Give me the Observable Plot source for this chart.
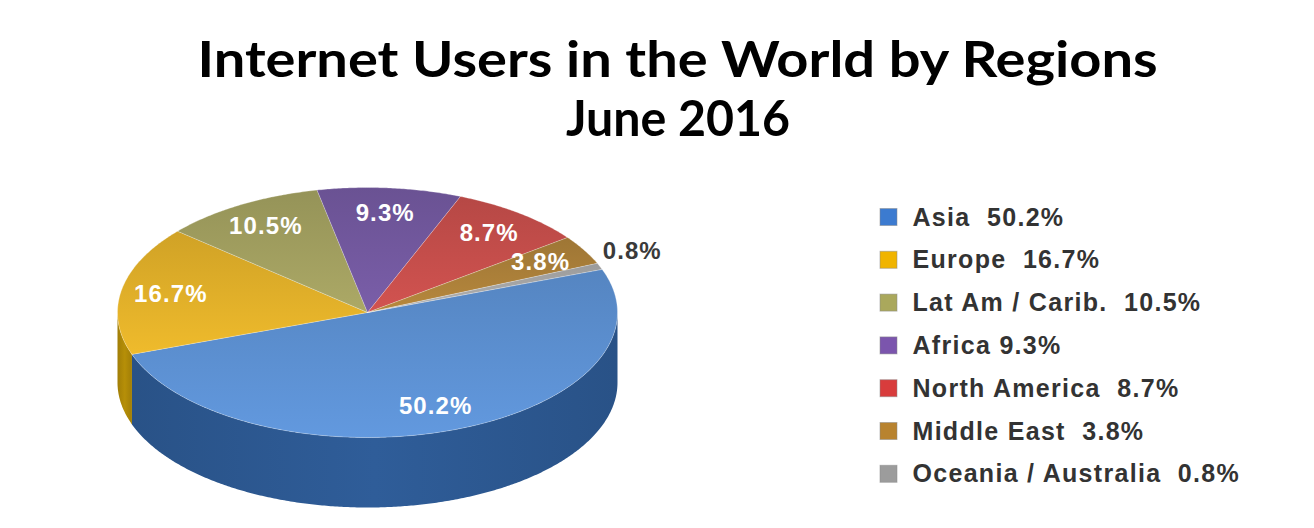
<!DOCTYPE html>
<html><head><meta charset="utf-8">
<script src="https://cdn.jsdelivr.net/npm/d3@7"></script>
<script src="https://cdn.jsdelivr.net/npm/@observablehq/plot@0.6"></script>
<style>
body{margin:0;background:#fff;width:1314px;height:528px;overflow:hidden}
#title{height:150px;text-align:center;font-family:Lato,"Open Sans",sans-serif;font-weight:bold;color:#000;padding-left:42px;box-sizing:border-box;padding-top:29px}
#title div{font-size:50px;line-height:59px;height:59px;white-space:nowrap}
#title span{display:inline-block;transform-origin:50% 50%}
#chart svg{display:block;white-space:pre}
</style></head><body>
<div id="title"><div><span data-w="960">Internet Users in the World by Regions</span></div><div><span data-w="224">June 2016</span></div></div>
<div id="chart"></div>
<script>
// ---- data ----
const regions = ["Asia", "Europe", "Lat Am / Carib.", "Africa", "North America", "Middle East", "Oceania / Australia"];
const shares = [50.2, 16.7, 10.5, 9.3, 8.7, 3.8, 0.8];
const legendLabels = ["Asia  50.2%", "Europe  16.7%", "Lat Am / Carib.  10.5%", "Africa 9.3%", "North America  8.7%", "Middle East  3.8%", "Oceania / Australia  0.8%"];
const topColors = ["#5a8ccc", "#dbab28", "#9d9b5d", "#70569b", "#c04c49", "#a77c38", "#a3a3a3"];
const sideColors = ["#2d5a94", "#b08a08", "#77753e", "#4f3a73", "#8e3331", "#7a5822", "#777777"];
const legendColors = ["#3c7bd0", "#f0b400", "#aaa85c", "#7b55ad", "#d83c3c", "#b8832f", "#9c9c9c"];

// ---- geometry (style) ----
const W = 1314, H = 378;
const cx = 367, cy = 162, rx = 250, ry = 125, depth = 70, start = -20.3;
const deg = Math.PI / 180;
const total = d3.sum(shares);
let acc = start;
const slices = regions.map((region, i) => {
  const a0 = acc, a1 = acc + shares[i] / total * 360; acc = a1;
  return {region, i, share: shares[i], a0, a1, mid: (a0 + a1) / 2};
});
const P = (a, dy = 0) => ({x: cx + rx * Math.cos(a * deg), y: cy + ry * Math.sin(a * deg) + dy});
const arc = (a0, a1, dy) => {
  const n = Math.max(2, Math.ceil(Math.abs(a1 - a0) * 2));
  return d3.range(n + 1).map(k => P(a0 + (a1 - a0) * k / n, dy));
};
// visible front wall parts
const sideParts = [];
slices.forEach(s => {
  for (const off of [-360, 0, 360]) {
    const lo = Math.max(s.a0, off), hi = Math.min(s.a1, off + 180);
    if (hi > lo) sideParts.push({s, pts: [...arc(lo, hi, 0), ...arc(hi, lo, depth)]});
  }
});
const tops = slices.map(s => ({s, pts: [{x: cx, y: cy}, ...arc(s.a0, s.a1, 0)]}));

const sideMarks = sideParts.map(p => Plot.line(p.pts, {x: "x", y: "y", curve: "linear-closed", fill: `url(#side${p.s.i})`, stroke: "none"}));
const topMarks = tops.map(p => Plot.line(p.pts, {x: "x", y: "y", curve: "linear-closed", fill: `url(#top${p.s.i})`, stroke: "#ffffff", strokeOpacity: 0.35, strokeWidth: 0.8}));

const inside = slices.filter(s => s.share >= 2);
const outside = slices.filter(s => s.share < 2);
const legendRows = regions.map((r, i) => ({i, label: legendLabels[i], color: legendColors[i]}));
const ly = i => 67 + i * 42.8;
const font = "Liberation Sans, Arial, sans-serif";

const chart = Plot.plot({
  width: W, height: H,
  margin: 0,
  x: {domain: [0, W], range: [0, W], axis: null},
  y: {domain: [0, H], range: [0, H], axis: null},
  marks: [
    ...sideMarks,
    ...topMarks,
    Plot.text(inside, {
      x: d => cx + 0.8 * rx * Math.cos(d.mid * deg),
      y: d => cy + 0.8 * ry * Math.sin(d.mid * deg),
      text: d => d.share.toFixed(1) + "%",
      fill: "#ffffff", fontSize: 24, fontWeight: "bold", fontFamily: font
    }),
    Plot.text(outside, {
      x: d => cx + 1.14 * rx * Math.cos(d.mid * deg),
      y: d => cy + 1.14 * ry * Math.sin(d.mid * deg) - 8,
      text: d => d.share.toFixed(1) + "%",
      fill: "#3a3a3a", fontSize: 24, fontWeight: "bold", fontFamily: font
    }),
    Plot.rect(legendRows, {
      x1: 880, x2: 897,
      y1: d => ly(d.i) - 8.5, y2: d => ly(d.i) + 8.5,
      fill: d => d.color, stroke: "#8a8a8a", strokeOpacity: 0.5, strokeWidth: 1
    }),
    Plot.text(legendRows, {
      x: 912, y: d => ly(d.i),
      text: "label", textAnchor: "start",
      fill: "#333333", fontSize: 25, fontWeight: "bold", fontFamily: font
    })
  ]
});

// gradients for the 3D shading
const svg = d3.select(chart);
const defs = svg.insert("defs", ":first-child");
slices.forEach(s => {
  const c = d3.color(topColors[s.i]);
  const gt = defs.append("linearGradient").attr("id", `top${s.i}`).attr("x1", 0).attr("y1", 0).attr("x2", 0).attr("y2", 1);
  gt.append("stop").attr("offset", 0).attr("stop-color", c.darker(0.15));
  gt.append("stop").attr("offset", 1).attr("stop-color", c.brighter(0.25));
  const sc = d3.color(sideColors[s.i]);
  const gs = defs.append("linearGradient").attr("id", `side${s.i}`).attr("x1", 0).attr("y1", 0).attr("x2", 1).attr("y2", 0);
  gs.append("stop").attr("offset", 0).attr("stop-color", sc.darker(0.25));
  gs.append("stop").attr("offset", 0.5).attr("stop-color", sc.brighter(0.1));
  gs.append("stop").attr("offset", 1).attr("stop-color", sc.darker(0.25));
});
// wider letter spacing like the reference's bold labels
svg.selectAll('g[font-size="25"] text').style("letter-spacing", "1.3px");
svg.selectAll('g[font-size="24"] text').style("letter-spacing", "1.1px");
document.getElementById("chart").appendChild(chart);

// fit the title lines to the reference widths
function fitTitle() {
  document.querySelectorAll("#title span").forEach(sp => {
    sp.style.transform = "none";
    const w = sp.getBoundingClientRect().width;
    if (w > 0) sp.style.transform = `scaleX(${(+sp.dataset.w) / w})`;
  });
}
fitTitle();
if (document.fonts) document.fonts.ready.then(fitTitle);
</script>
</body></html>
